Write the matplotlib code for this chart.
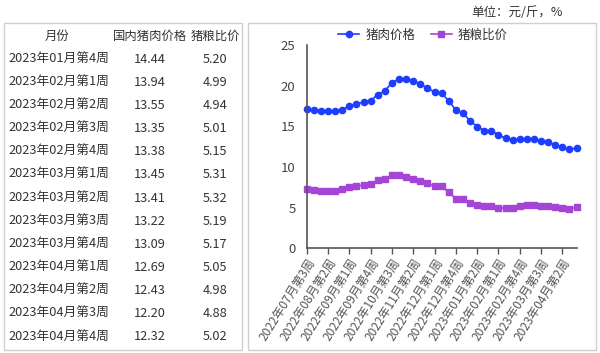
import matplotlib
matplotlib.use("Agg")
import matplotlib.pyplot as plt
from matplotlib.patches import Rectangle

plt.rcParams["font.family"] = ["Noto Sans CJK SC", "DejaVu Sans"]

# table rows (also the last 13 weeks of the chart)
table_weeks = [
    "2023年01月第4周", "2023年02月第1周", "2023年02月第2周", "2023年02月第3周",
    "2023年02月第4周", "2023年03月第1周", "2023年03月第2周", "2023年03月第3周",
    "2023年03月第4周", "2023年04月第1周", "2023年04月第2周", "2023年04月第3周",
    "2023年04月第4周",
]
table_price = [14.44, 13.94, 13.55, 13.35, 13.38, 13.45, 13.41, 13.22, 13.09, 12.69, 12.43, 12.20, 12.32]
table_ratio = [5.20, 4.99, 4.94, 5.01, 5.15, 5.31, 5.32, 5.19, 5.17, 5.05, 4.98, 4.88, 5.02]

# earlier weeks (2022年07月第3周 onwards)
early_price = [17.10, 16.97, 16.93, 16.85, 16.90, 17.05, 17.47, 17.80, 17.96, 18.15,
               18.90, 19.35, 20.37, 20.80, 20.86, 20.60, 20.20, 19.70, 19.20, 19.06,
               18.15, 17.00, 16.60, 15.70, 14.96, 14.47]
early_ratio = [7.29, 7.13, 7.09, 7.05, 7.09, 7.26, 7.54, 7.70, 7.75, 7.87,
               8.36, 8.56, 9.00, 9.05, 8.73, 8.56, 8.31, 8.00, 7.60, 7.60,
               6.90, 6.10, 6.10, 5.60, 5.30, 5.20]

tick_labels = [
    "2022年07月第3周", "2022年08月第2周", "2022年09月第1周", "2022年09月第4周",
    "2022年10月第3周", "2022年11月第2周", "2022年12月第1周", "2022年12月第4周",
    "2023年01月第2周", "2023年02月第1周", "2023年02月第4周", "2023年03月第3周",
    "2023年04月第2周",
]

price = early_price + table_price
ratio = early_ratio + table_ratio
x = list(range(len(price)))

W, H = 600, 353
fig = plt.figure(figsize=(W / 100, H / 100), dpi=100)


def fx(px):
    return px / W


def fy(py):
    return 1 - py / H


# boxes
for x0, x1 in [(4, 242), (248, 596)]:
    fig.patches.append(Rectangle((fx(x0), fy(350)), fx(x1 - x0), (350 - 23) / H,
                                 transform=fig.transFigure, fill=False,
                                 edgecolor="#cfcfcf", linewidth=1.0))

# table
txt = dict(color="#333333", va="center")
row_y0, row_dy = 36, 23.15
fig.text(fx(57), fy(row_y0), "月份", ha="center", fontsize=8.9, **txt)
fig.text(fx(150), fy(row_y0), "国内猪肉价格", ha="center", fontsize=8.9, **txt)
fig.text(fx(215), fy(row_y0), "猪粮比价", ha="center", fontsize=8.9, **txt)
for i, (w, p, r) in enumerate(zip(table_weeks, table_price, table_ratio)):
    yy = fy(row_y0 + row_dy * (i + 1))
    fig.text(fx(8), yy, w, ha="left", fontsize=9.2, **txt)
    fig.text(fx(150), yy, f"{p:.2f}", ha="center", fontsize=9.2, **txt)
    fig.text(fx(227), yy, f"{r:.2f}", ha="right", fontsize=9.2, **txt)

# chart
ax = fig.add_axes([fx(306.7), 104.7 / H, (576.5 - 306.7) / W, (308 - 104.7) / H])
ax.plot(x, price, color="#1f3dff", marker="o", markersize=4.5, linewidth=1.2,
        label="猪肉价格", clip_on=False)
ax.plot(x, ratio, color="#a445d8", marker="s", markersize=4.0, linewidth=1.2,
        label="猪粮比价", clip_on=False)
ax.set_xlim(0, len(x) - 1)
ax.set_ylim(0, 25)
ax.set_yticks([0, 5, 10, 15, 20, 25])
ax.set_xticks(range(0, len(x), 3))
ax.set_xticklabels(tick_labels, rotation=58, ha="right", rotation_mode="anchor",
                   fontsize=8.6, color="#555555")
ax.tick_params(axis="y", length=0, labelsize=9.5, labelcolor="#444444", pad=8)
ax.tick_params(axis="x", length=4, width=1, color="#555555", pad=2)
for s in ["top", "right"]:
    ax.spines[s].set_visible(False)
for s in ["left", "bottom"]:
    ax.spines[s].set_color("#555555")
    ax.spines[s].set_linewidth(1.2)

fig.legend(loc="center", bbox_to_anchor=(fx(423), fy(35)), ncol=2, frameon=False,
           fontsize=9, handlelength=1.7, columnspacing=1.2, handletextpad=0.5,
           labelcolor="#333333")

fig.text(fx(563), fy(12), "单位：元/斤，%", ha="right", va="center",
         fontsize=9, color="#333333")

fig.savefig("out.png", dpi=100)
